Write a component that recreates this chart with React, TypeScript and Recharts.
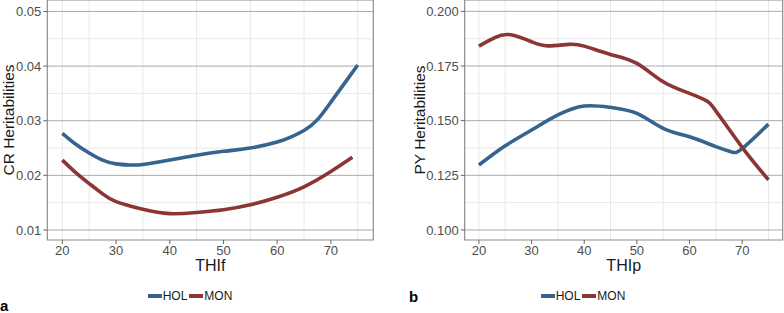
import { LineChart, Line, XAxis, YAxis, CartesianGrid, ReferenceArea, Label } from "recharts"

// panel a: CR heritabilities over THIf
const thiHolA = [20, 22.5, 25, 27.5, 30, 32.5, 35, 40, 45, 50, 55, 60, 62.5, 65, 67.5, 70, 72.5, 75]
const holA = [0.0277, 0.0257, 0.0241, 0.0228, 0.0221, 0.0219, 0.022, 0.0228, 0.0237, 0.0244, 0.025, 0.0261, 0.027, 0.0282, 0.0302, 0.0334, 0.0368, 0.0402]
const thiMonA = [20, 22.5, 25, 27.5, 30, 35, 40, 45, 50, 55, 60, 65, 70, 74]
const monA = [0.0228, 0.0205, 0.0185, 0.0166, 0.0152, 0.0138, 0.013, 0.0132, 0.0137, 0.0146, 0.016, 0.0179, 0.0207, 0.0233]

// panel b: PY heritabilities over THIp
const thiHolB = [20, 25, 30, 35, 40, 45, 50, 55, 60, 65, 68, 70, 75]
const holB = [0.1297, 0.1385, 0.1457, 0.1526, 0.1567, 0.1561, 0.1533, 0.1465, 0.1426, 0.1381, 0.1357, 0.1372, 0.1484]
const thiMonB = [20, 23, 26, 30, 33, 37, 40, 45, 50, 55, 60, 63, 65, 70, 75]
const monB = [0.1841, 0.188, 0.1893, 0.1861, 0.1842, 0.1849, 0.1841, 0.1803, 0.1762, 0.1678, 0.1625, 0.1594, 0.1545, 0.1378, 0.1229]

const xTicks = [20, 30, 40, 50, 60, 70]
const xMinor = [25, 35, 45, 55, 65, 75]
const yTicksA = [0.01, 0.02, 0.03, 0.04, 0.05]
const yMinorA = [0.015, 0.025, 0.035, 0.045]
const yTicksB = [0.1, 0.125, 0.15, 0.175, 0.2]
const yMinorB = [0.1125, 0.1375, 0.1625, 0.1875]

const HOL = "#34648f"
const MON = "#8b3535"
const FONT = "'Liberation Sans', Arial, sans-serif"

const toPts = (xs: number[], ys: number[]) => xs.map((x, i) => ({ x, y: ys[i] }))

interface PanelProps {
  left: number
  yWidth: number
  rightMargin: number
  xDomain: [number, number]
  yDomain: [number, number]
  yTicks: number[]
  yMinor: number[]
  digits: number
  xTitle: string
  yTitle: string
  hol: { x: number; y: number }[]
  mon: { x: number; y: number }[]
  letter: string
  letterTop: number
}

const Panel = (p: PanelProps) => {
  const tick = { fill: "#4d4d4d", fontSize: 13, fontFamily: FONT }
  return (
    <div style={{ position: "absolute", left: p.left, top: 0, width: 392, height: 313 }}>
      <LineChart width={392} height={280} margin={{ top: 0, right: p.rightMargin, bottom: 0, left: 0 }}>
        <CartesianGrid stroke="#e8e8e8" strokeWidth={1} horizontalValues={p.yMinor} verticalValues={[...xTicks, ...xMinor]} />
        <CartesianGrid stroke="#ababab" strokeWidth={1} vertical={false} horizontalValues={p.yTicks} />
        <XAxis
          type="number"
          dataKey="x"
          domain={p.xDomain}
          ticks={xTicks}
          allowDataOverflow
          height={40}
          tickSize={4}
          tickMargin={2}
          axisLine={false}
          tickLine={{ stroke: "#666" }}
          tick={tick}
        >
          <Label
            content={({ viewBox }: any) => (
              <text x={viewBox.x + viewBox.width / 2} y={viewBox.y + 31} textAnchor="middle" fontSize={16} fontFamily={FONT} fill="#1a1a1a">
                {p.xTitle}
              </text>
            )}
          />
        </XAxis>
        <YAxis
          type="number"
          domain={p.yDomain}
          ticks={p.yTicks}
          allowDataOverflow
          width={p.yWidth}
          tickSize={4}
          tickMargin={2}
          axisLine={false}
          tickLine={{ stroke: "#666" }}
          tick={tick}
          tickFormatter={(v: number) => v.toFixed(p.digits)}
        >
          <Label
            content={({ viewBox }: any) => {
              const cx = viewBox.x + 8 + (p.left ? 19 : 0)
              const cy = viewBox.y + viewBox.height / 2
              return (
                <text x={cx} y={cy} transform={`rotate(-90 ${cx} ${cy})`} textAnchor="middle" dominantBaseline="central" fontSize={15.5} fontFamily={FONT} fill="#1a1a1a">
                  {p.yTitle}
                </text>
              )
            }}
          />
        </YAxis>
        <ReferenceArea x1={p.xDomain[0]} x2={p.xDomain[1]} y1={p.yDomain[0]} y2={p.yDomain[1]} fill="none" stroke="#8c8c8c" strokeWidth={1.2} ifOverflow="visible" />
        <Line data={p.hol} dataKey="y" type="natural" stroke={HOL} strokeWidth={3.6} dot={false} isAnimationActive={false} />
        <Line data={p.mon} dataKey="y" type="natural" stroke={MON} strokeWidth={3.6} dot={false} isAnimationActive={false} />
      </LineChart>
      <div
        style={{
          position: "absolute",
          top: 289,
          left: 0,
          width: 392 - (p.left ? 10 : 12),
          display: "flex",
          justifyContent: "center",
          alignItems: "center",
          fontFamily: FONT,
          fontSize: 12,
          color: "#1a1a1a",
        }}
      >
        <span style={{ display: "inline-block", width: 14, height: 4, background: HOL, marginRight: 1 }} />
        <span>HOL</span>
        <span style={{ display: "inline-block", width: 14, height: 4, background: MON, margin: "0 1px 0 2px" }} />
        <span>MON</span>
      </div>
      <div style={{ position: "absolute", top: p.letterTop, left: p.left ? 17 : 0, fontFamily: FONT, fontWeight: 700, fontSize: 15, color: "#000" }}>
        {p.letter}
      </div>
    </div>
  )
}

export default function App() {
  return (
    <div style={{ position: "absolute", left: 0, top: 0, width: 784, height: 313, background: "#fff" }}>
      <Panel
        left={0}
        yWidth={47.3}
        rightMargin={18.7}
        xDomain={[17.2, 77.9]}
        yDomain={[0.00817, 0.0521]}
        yTicks={yTicksA}
        yMinor={yMinorA}
        digits={2}
        xTitle="THIf"
        yTitle="CR Heritabilities"
        hol={toPts(thiHolA, holA)}
        mon={toPts(thiMonA, monA)}
        letter="a"
        letterTop={297}
      />
      <Panel
        left={392}
        yWidth={72.7}
        rightMargin={1.3}
        xDomain={[17.3, 77.7]}
        yDomain={[0.0954, 0.2052]}
        yTicks={yTicksB}
        yMinor={yMinorB}
        digits={3}
        xTitle="THIp"
        yTitle="PY Heritabilities"
        hol={toPts(thiHolB, holB)}
        mon={toPts(thiMonB, monB)}
        letter="b"
        letterTop={288}
      />
    </div>
  )
}
